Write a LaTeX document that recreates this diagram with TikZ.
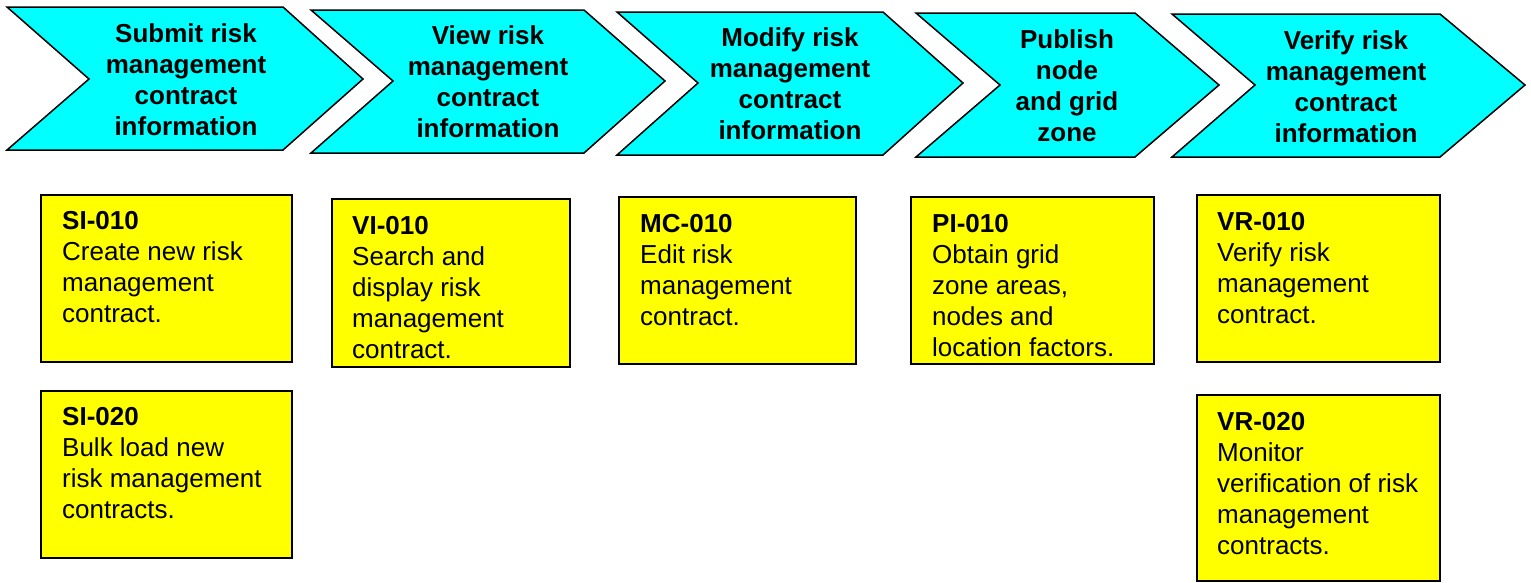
\documentclass[tikz,border=0pt]{standalone}
\usepackage{fontspec}
\setmainfont{Liberation Sans}
\usetikzlibrary{calc}
\definecolor{chevcyan}{RGB}{0,255,255}
\definecolor{cardyellow}{RGB}{255,255,0}
\tikzset{
  chev/.style={draw=black, fill=chevcyan, line width=1.5pt, line join=miter},
  card/.style={draw=black, fill=cardyellow, line width=1.5pt, rectangle, inner sep=0pt, anchor=north west},
  headtxt/.style={font=\fontsize{26}{31}\selectfont\bfseries, align=center, inner sep=0pt},
  cardtxt/.style={font=\fontsize{26}{31}\selectfont, align=left, inner sep=0pt, anchor=north west}
}
\begin{document}
\begin{tikzpicture}[x=1pt,y=-1pt]
\useasboundingbox (0,0) rectangle (1531,582);
% chevrons
\draw[chev] (7,7) -- (283,7) -- (363,79) -- (283,150) -- (7,150) -- (89,79) -- cycle;
\draw[chev] (311,10) -- (584,10) -- (665,81) -- (584,153) -- (311,153) -- (393,81) -- cycle;
\draw[chev] (617,12) -- (883,12) -- (963,83) -- (883,155) -- (617,155) -- (698,83) -- cycle;
\draw[chev] (916,13) -- (1135,13) -- (1219,85) -- (1135,157) -- (916,157) -- (1000,85) -- cycle;
\draw[chev] (1172,14) -- (1440,14) -- (1525,85) -- (1440,157) -- (1172,157) -- (1255,85) -- cycle;
\node[headtxt] (h1) at (186,80) {Submit risk\\management\\contract\\information};
\node[headtxt] (h2) at (488,82) {View risk\\management\\contract\\information};
\node[headtxt] (h3) at (790,84) {Modify risk\\management\\contract\\information};
\node[headtxt] (h4) at (1067,86) {Publish\\node\\and grid\\zone};
\node[headtxt] (h5) at (1346,87) {Verify risk\\management\\contract\\information};
% cards
\node[card, minimum width=251pt, minimum height=167pt] (si010) at (40,194) {};
\node[card, minimum width=251pt, minimum height=167pt] (si020) at (40,390) {};
\node[card, minimum width=238pt, minimum height=168pt] (vi010) at (331,198) {};
\node[card, minimum width=237pt, minimum height=167pt] (mc010) at (618,196) {};
\node[card, minimum width=243pt, minimum height=167pt] (pi010) at (910,196) {};
\node[card, minimum width=243pt, minimum height=167pt] (vr010) at (1196,194) {};
\node[card, minimum width=243pt, minimum height=186pt] (vr020) at (1196,394) {};
\node[cardtxt] (si010t) at ($(si010.north west)+(22,17)$) {\textbf{SI-010}\\Create new risk\\management\\contract.};
\node[cardtxt] (si020t) at ($(si020.north west)+(22,17)$) {\textbf{SI-020}\\Bulk load new\\risk management\\contracts.};
\node[cardtxt] (vi010t) at ($(vi010.north west)+(21,18)$) {\textbf{VI-010}\\Search and\\display risk\\management\\contract.};
\node[cardtxt] (mc010t) at ($(mc010.north west)+(22,18)$) {\textbf{MC-010}\\Edit risk\\management\\contract.};
\node[cardtxt] (pi010t) at ($(pi010.north west)+(22,18)$) {\textbf{PI-010}\\Obtain grid\\zone areas,\\nodes and\\location factors.};
\node[cardtxt] (vr010t) at ($(vr010.north west)+(21,18)$) {\textbf{VR-010}\\Verify risk\\management\\contract.};
\node[cardtxt] (vr020t) at ($(vr020.north west)+(21,18)$) {\textbf{VR-020}\\Monitor\\verification of risk\\management\\contracts.};
\end{tikzpicture}
\end{document}
